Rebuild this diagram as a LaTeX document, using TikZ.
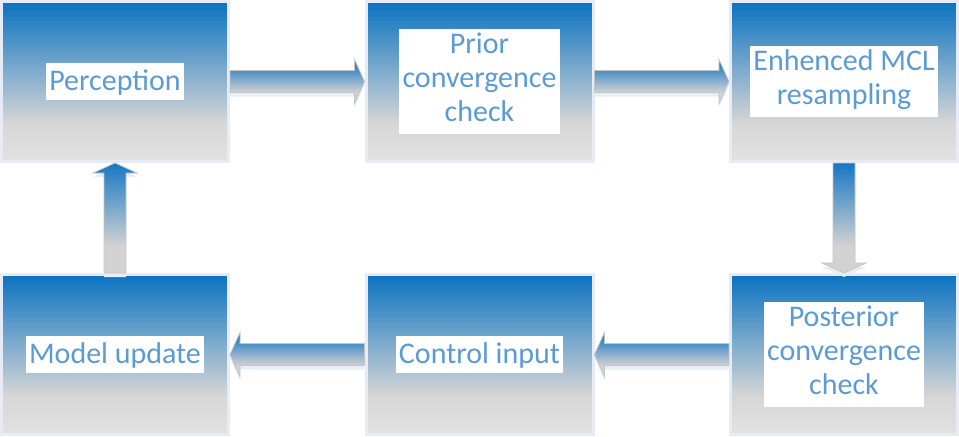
\documentclass[tikz,border=0pt]{standalone}
\usepackage{fontspec}
\setmainfont{Carlito}
\usetikzlibrary{calc,shadows}

\definecolor{boxblue}{HTML}{0A72C1}
\definecolor{boxgray}{HTML}{D6D6D6}
\definecolor{boxlow}{HTML}{E2E2E2}
\definecolor{boxrim}{HTML}{E6EBF5}
\definecolor{labelblue}{HTML}{5B9BD5}
\definecolor{arblue}{HTML}{1677C2}
\definecolor{arbluelt}{HTML}{4A90C9}
\definecolor{argray}{HTML}{D2D2D2}
\definecolor{arrowrim}{HTML}{C4C4C4}
\definecolor{arrowglow}{HTML}{E6EEF9}

\pgfdeclareverticalshading{boxshade}{100bp}{color(0bp)=(boxlow); color(25bp)=(boxlow); color(37bp)=(boxgray); color(75bp)=(boxblue); color(100bp)=(boxblue)}
\pgfdeclareverticalshading{harrowshade}{100bp}{color(0bp)=(argray); color(37.5bp)=(argray); color(62.5bp)=(arbluelt); color(75bp)=(arblue); color(100bp)=(arblue)}
\pgfdeclareverticalshading{varrowshade}{100bp}{color(0bp)=(argray); color(37.5bp)=(argray); color(75bp)=(arblue); color(100bp)=(arblue)}

\begin{document}
\begin{tikzpicture}[x=0.75pt,y=-0.75pt,
	stagebox/.style={draw=boxrim, line width=2.25pt, shading=boxshade, minimum width=170.25pt, minimum height=120pt, inner sep=0pt},
	stagelabel/.style={fill=white, text=labelblue, align=center, inner xsep=2.5pt, font=\fontsize{22.5}{25.5}\selectfont,
		execute at begin node=\rule{0pt}{20.8pt}, execute at end node=\rule[-7pt]{0pt}{7pt}},
	flow/.style={draw=arrowrim, line width=0.6pt, general shadow={fill=arrowglow, shadow yshift=-3pt}}]

	\useasboundingbox (0,0) rectangle (959,436);

	\foreach \name / \x / \y / \pad / \txt in {
	perc/115/81.5/0pt/Perception,
	prior/479.5/81.5/2.7pt/{Prior\\convergence\\check},
	enh/844/81.5/2.7pt/{Enhenced MCL\\resampling},
	model/115/354.5/0pt/Model update,
	ctrl/479.5/354.5/0pt/Control input,
	post/844/354.5/2.7pt/{Posterior\\convergence\\check}}
	{
		\node[stagebox] (\name) at (\x,\y) {};
		\node[stagelabel, inner ysep=\pad] (\name-txt) at (\name) {\txt};
	};

	\foreach \a / \b / \s in {
	perc.east/prior.west/harrowshade,
	prior.east/enh.west/harrowshade,
	enh.south/post.north/varrowshade,
	post.west/ctrl.east/harrowshade,
	ctrl.west/model.east/harrowshade,
	model.north/perc.south/varrowshade}
	{
		\coordinate (hb) at ($(\b)!7.5pt!(\a)$);
		\path[flow, shading=\s] ($(\a)!8.25pt!90:(\b)$) -- ($(hb)!8.25pt!90:(\b)$)
			-- ($(hb)!16.5pt!90:(\b)$) -- (\b) -- ($(hb)!16.5pt!-90:(\b)$)
			-- ($(hb)!8.25pt!-90:(\b)$) -- ($(\a)!8.25pt!-90:(\b)$) -- cycle;
	};
\end{tikzpicture}
\end{document}
